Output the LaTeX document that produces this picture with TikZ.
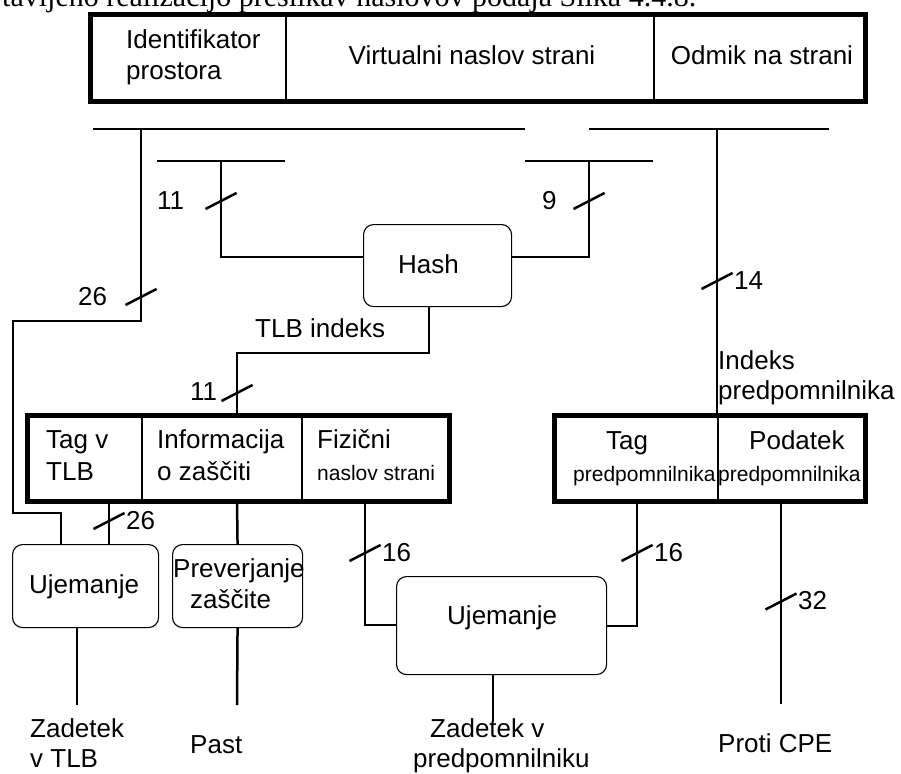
\documentclass[tikz,border=0pt]{standalone}
\usepackage{fontspec}
\setmainfont{Liberation Sans}
\newfontfamily\serifx{Liberation Serif}
\newcommand\wslash[1]{\draw[wire] ([shift={(-15.5,8)}]#1) -- ([shift={(15.5,-8)}]#1);}
\begin{document}
\begin{tikzpicture}[x=1pt,y=-1pt,
  wire/.style={line width=2.5pt},
  thickbox/.style={draw,line width=5pt},
  cell/.style={draw,line width=2pt,inner sep=0pt,anchor=north west},
  rbox/.style={draw,line width=1.1pt,rounded corners=10pt,inner sep=0pt,anchor=north west},
  lbl/.style={font=\fontsize{26}{31}\selectfont,inner sep=0pt,anchor=base west},
  small/.style={font=\fontsize{21}{25}\selectfont,inner sep=0pt,anchor=base west}]
\useasboundingbox (0,0) rectangle (901,773);

% caption fragment at the top (cut off)
\node[font=\fontsize{30}{36}\serifx,inner sep=0pt,anchor=base west] (cap) at (2,7)
  {tavljeno realizacijo preslikav naslovov podaja Slika 4.4.8.};

% top address register
\node[cell,minimum width=194.5pt,minimum height=84.5pt] (idc) at (90.5,15) {};
\node[cell,minimum width=368pt,minimum height=84.5pt] (vpn) at (285,15) {};
\node[cell,minimum width=210pt,minimum height=84.5pt] (ofs) at (653,15) {};
\draw[thickbox] (idc.north west) rectangle (ofs.south east);
\node[lbl] (idcT1) at (126,49) {Identifikator};
\node[lbl] (idcT2) at (126,80) {prostora};
\node[lbl,anchor=base] (vpnT) at (472,65) {Virtualni naslov strani};
\node[lbl,anchor=base] (ofsT) at (762,65) {Odmik na strani};

% bus lines
\coordinate (busLa) at (93,129);  \coordinate (busLb) at (525,129);
\coordinate (busRa) at (589,129); \coordinate (busRb) at (829,129);
\coordinate (subLa) at (157,161); \coordinate (subLb) at (285,161);
\coordinate (subRa) at (525,161); \coordinate (subRb) at (653,161);
\draw[wire] (busLa) -- (busLb);
\draw[wire] (busRa) -- (busRb);
\draw[wire] (subLa) -- (subLb);
\draw[wire] (subRa) -- (subRb);

% hash
\node[rbox,minimum width=148pt,minimum height=82pt] (hash) at (363,224) {};
\node[lbl] (hashT) at (398,273) {Hash};

% TLB entry
\node[cell,minimum width=114pt,minimum height=84pt] (tlbtag) at (27,415) {};
\node[cell,minimum width=160pt,minimum height=84pt] (tlbinfo) at (141,415) {};
\node[cell,minimum width=146.5pt,minimum height=84pt] (tlbphys) at (301,415) {};
\draw[thickbox] (tlbtag.north west) rectangle (tlbphys.south east);
\node[lbl] (tlbT1) at (46,448) {Tag v};
\node[lbl] (tlbT2) at (46,480) {TLB};
\node[lbl] (infT1) at (157,448) {Informacija};
\node[lbl] (infT2) at (157,480) {o zaščiti};
\node[lbl] (phyT1) at (317,448) {Fizični};
\node[small] (phyT2) at (317,480) {naslov strani};

% cache entry
\node[cell,minimum width=162.5pt,minimum height=84pt] (ctag) at (554.5,415) {};
\node[cell,minimum width=146.5pt,minimum height=84pt] (cdata) at (717,415) {};
\draw[thickbox] (ctag.north west) rectangle (cdata.south east);
\node[lbl] (ctagT1) at (606,449) {Tag};
\node[small] (ctagT2) at (573,481) {predpomnilnika};
\node[lbl] (cdatT1) at (749,449) {Podatek};
\node[small] (cdatT2) at (718,481) {predpomnilnika};

% lower boxes
\node[rbox,minimum width=146pt,minimum height=83pt] (uj1) at (12,544) {};
\node[lbl] (uj1T) at (29,593) {Ujemanje};
\node[rbox,minimum width=130pt,minimum height=83pt] (prev) at (172,544) {};
\node[lbl] (prevT1) at (173,577) {Preverjanje};
\node[lbl] (prevT2) at (190,608) {zaščite};
\node[rbox,minimum width=210pt,minimum height=98pt] (uj2) at (396,576) {};
\node[lbl] (uj2T) at (447,624) {Ujemanje};

% taps and free ends
\coordinate (tap26) at (141,129);
\coordinate (tap11) at (221,161);
\coordinate (tap9)  at (589,161);
\coordinate (tap14) at (717,129);
\coordinate (endA) at (77,705);
\coordinate (endB) at (237,705);
\coordinate (endC) at (493,722);
\coordinate (endD) at (781,704);

% connectors
\draw[wire] (tap26) |- (13,321) |- (61,513) -- (61,0 |- uj1.north);
\draw[wire] (tap11) |- (hash.west |- 0,257);
\draw[wire] (tap9) |- (hash.east |- 0,257);
\draw[wire] (hash.south -| 429,0) |- (237,353) -- (237,0 |- tlbinfo.north);
\draw[wire] (tap14) -- (717,0 |- cdata.north);
\draw[wire] (tlbtag.south -| 109,0) -- (109,0 |- uj1.north);
\draw[wire] (tlbinfo.south -| 237,0) -- (prev.north);
\draw[wire] (tlbphys.south -| 365,0) |- (uj2.west |- 0,625);
\draw[wire] (ctag.south -| 637,0) |- (uj2.east |- 0,626);
\draw[wire] (cdata.south -| 781,0) -- (endD);
\draw[wire] (uj1.south -| 77,0) -- (endA);
\draw[wire] (prev.south) -- (endB);
\draw[wire] (uj2.south -| 493,0) -- (endC);

% bus width slashes
\coordinate (s1) at (141,297);
\coordinate (s2) at (221,201);
\coordinate (s3) at (589,201);
\coordinate (s4) at (237,393);
\coordinate (s5) at (717,281);
\coordinate (s6) at (109,521);
\coordinate (s7) at (365,553);
\coordinate (s8) at (637,553);
\coordinate (s9) at (781,601.5);
\wslash{s1}\wslash{s2}\wslash{s3}\wslash{s4}\wslash{s5}
\wslash{s6}\wslash{s7}\wslash{s8}\wslash{s9}

% width labels
\node[lbl] (n26a) at (78,305) {26};
\node[lbl] (n11a) at (157,209) {11};
\node[lbl] (n9) at (542,209) {9};
\node[lbl] (tlbidx) at (255,337) {TLB indeks};
\node[lbl] (n11b) at (190,400) {11};
\node[lbl] (n14) at (734,289) {14};
\node[lbl] (ixT1) at (718,369) {Indeks};
\node[lbl] (ixT2) at (718,399) {predpomnilnika};
\node[lbl] (n26b) at (126,529) {26};
\node[lbl] (n16a) at (382,561) {16};
\node[lbl] (n16b) at (654,561) {16};
\node[lbl] (n32) at (798,609) {32};

% outputs
\node[lbl] (outA1) at (30,737) {Zadetek};
\node[lbl] (outA2) at (30,767) {v TLB};
\node[lbl] (outB) at (190,753) {Past};
\node[lbl] (outC1) at (430,737) {Zadetek v};
\node[lbl] (outC2) at (413,767) {predpomnilniku};
\node[lbl] (outD) at (718,752) {Proti CPE};
\end{tikzpicture}
\end{document}
